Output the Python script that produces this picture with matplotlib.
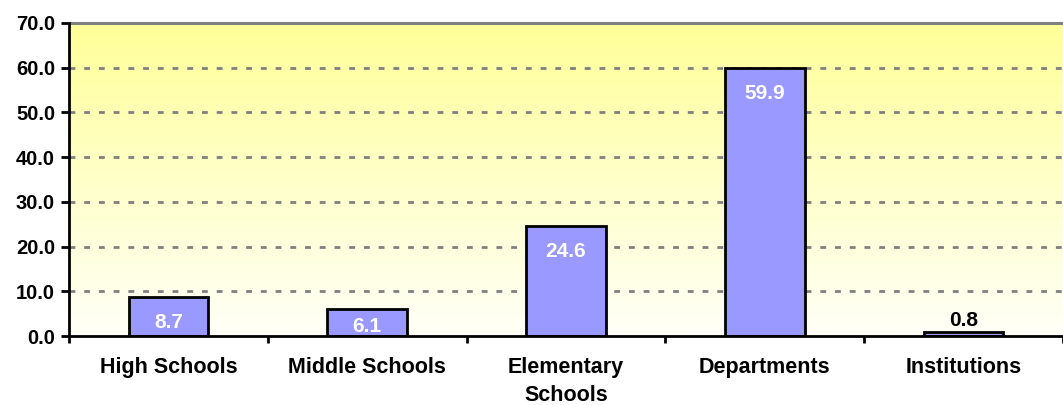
import numpy as np
import matplotlib.pyplot as plt
from matplotlib.colors import LinearSegmentedColormap

categories = ['High Schools', 'Middle Schools', 'Elementary\nSchools', 'Departments', 'Institutions']
values = [8.7, 6.1, 24.6, 59.9, 0.8]
y_ticks = [0, 10, 20, 30, 40, 50, 60, 70]

plt.rcParams['font.family'] = ['Liberation Sans', 'DejaVu Sans']
plt.rcParams['font.weight'] = 'bold'

W, H = 1063, 405
fig = plt.figure(figsize=(W / 100, H / 100), dpi=100)
ax = fig.add_axes([69 / W, 1 - 336 / H, (W - 69) / W, (336 - 23) / H])

# yellow-to-cream background of the plot area
cmap = LinearSegmentedColormap.from_list('bg', ['#FFFFF8', '#FFFF99'])
grad = np.linspace(0, 1, 256).reshape(-1, 1)
ax.imshow(grad, cmap=cmap, aspect='auto', origin='lower',
          extent=[0, 1, 0, 1], transform=ax.transAxes, zorder=0)

x = np.arange(len(categories))
ax.bar(x, values, width=0.40, color='#9999FF', edgecolor='black', linewidth=2, zorder=3)

# value labels: inside the bar top, kept above the axis; tiny bars get it above
px = 70 / 313
for xi, v in zip(x, values):
    if v > 3:
        yl = max(v - 25 * px, 9 * px)
        ax.text(xi, yl, f'{v:.1f}', ha='center', va='center', color='white',
                fontsize=15, fontweight='bold', zorder=4)
    else:
        ax.text(xi, v + 12 * px, f'{v:.1f}', ha='center', va='center', color='black',
                fontsize=15, fontweight='bold', zorder=4)

ax.set_xlim(-0.5, -0.5 + (W - 69) / 201)
ax.set_ylim(0, 70)
ax.set_yticks(y_ticks)
ax.set_yticklabels([f'{t:.1f}' for t in y_ticks], fontsize=14.5, fontweight='bold')
for t in y_ticks[1:-1]:
    ax.axhline(t, color='#808080', linewidth=2, linestyle=(0, (2.1, 3.2)), zorder=1)

ax.set_xticks(np.arange(-0.5, len(categories), 1.0))
ax.set_xticklabels([])
ax.set_xticks(x, minor=True)
ax.set_xticklabels(categories, minor=True, fontsize=15.5, fontweight='bold',
                   linespacing=1.45)
ax.tick_params(axis='x', which='minor', length=0, pad=15)
ax.tick_params(axis='x', which='major', length=5, width=2, direction='out')
ax.tick_params(axis='y', length=6, width=2, direction='out', pad=4)

ax.spines['right'].set_visible(False)
ax.spines['top'].set_color('#808080')
ax.spines['top'].set_linewidth(2.2)
ax.spines['left'].set_linewidth(2)
ax.spines['bottom'].set_linewidth(2)
ax.spines['left'].set_zorder(5)
ax.spines['bottom'].set_zorder(5)

fig.savefig('out.png', dpi=100)
